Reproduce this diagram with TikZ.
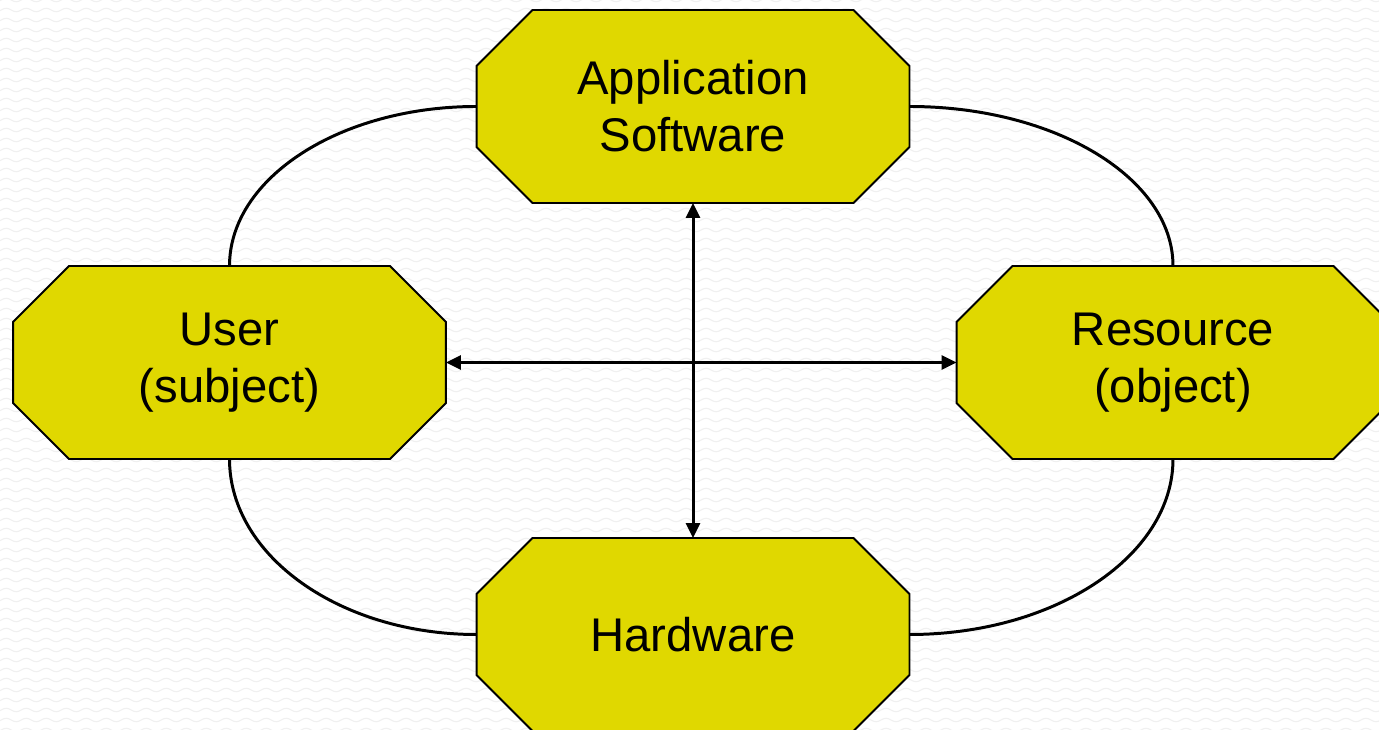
\documentclass[tikz,border=0pt]{standalone}
\usepackage{fontspec}
\setmainfont{Liberation Sans}
\usetikzlibrary{shapes,arrows.meta,positioning,calc,backgrounds,decorations.pathmorphing}
\definecolor{boxyellow}{RGB}{224,216,0}

\begin{document}
\begin{tikzpicture}[x=0.02cm, y=0.02cm,
    part/.style={rectangle, minimum width=8.66cm, minimum height=3.86cm, inner sep=0pt, outer sep=0pt,
        align=center, font=\fontsize{26.9}{32.4}\selectfont},
    outline/.style={draw, line width=1.1pt, fill=boxyellow},
    ring/.style={line width=1.7pt},
    link/.style={line width=1.7pt, {Triangle[length=0.3cm,width=0.28cm]}-{Triangle[length=0.3cm,width=0.28cm]}},
    wave/.style={black!6, line width=0.6pt, decorate, decoration={snake, amplitude=0.035cm, segment length=0.4cm}}
]
    \clip (0,0) rectangle (1379,730);

    \node[part] (app)  at (693,623.5)   {Application\\Software};
    \node[part] (user) at (229.5,367.5) {User\\(subject)};
    \node[part] (res)  at (1173,367.5)  {Resource\\(object)};
    \node[part] (hw)   at (693,95.5)    {Hardware};

    \begin{scope}[on background layer]
        \fill[white] (0,0) rectangle (1379,730);
        \foreach \r in {0,...,73}
            \draw[wave] (-20,\r*10) -- (1400,\r*10);
        % octagons with 56 unit corners cut off
        \foreach \n in {app,user,res,hw}
            \path[outline] ($(\n.north west)+(56,0)$) -- ($(\n.north east)+(-56,0)$)
                -- ($(\n.north east)+(0,-56)$) -- ($(\n.south east)+(0,56)$)
                -- ($(\n.south east)+(-56,0)$) -- ($(\n.south west)+(56,0)$)
                -- ($(\n.south west)+(0,56)$) -- ($(\n.north west)+(0,-56)$) -- cycle;
    \end{scope}

    % quarter ellipses joining the four parts
    \foreach \a/\b in {app.west/user.north, app.east/res.north, hw.west/user.south, hw.east/res.south}
        \draw[ring] (\a) .. controls ($(\a)!0.552!(\a -| \b)$) and ($(\b)!0.552!(\a -| \b)$) .. (\b);

    \draw[link] (user) -- (res);
    \draw[link] (app) -- (hw);
\end{tikzpicture}
\end{document}
